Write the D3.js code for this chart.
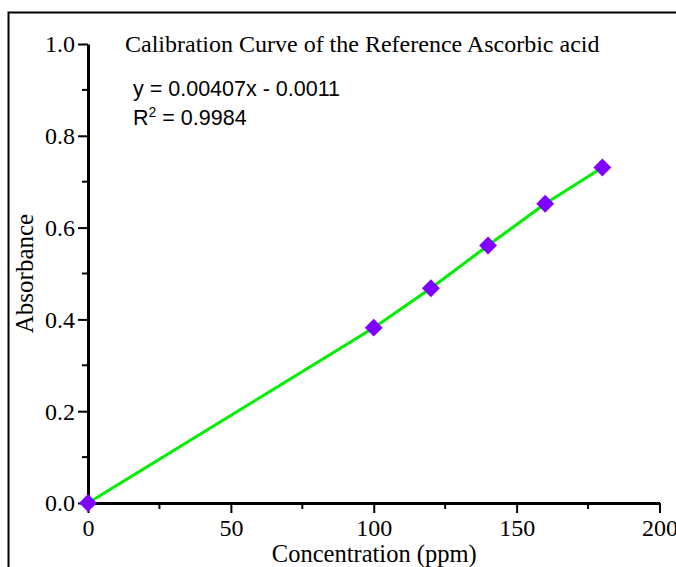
<!DOCTYPE html>
<html>
<head>
<meta charset="utf-8">
<script src="https://cdn.jsdelivr.net/npm/d3@7"></script>
<style>
  body { margin: 0; background: #fff; }
  svg { display: block; }
</style>
</head>
<body>
<svg width="676" height="567"></svg>
<script>
// data
var conc = [0, 100, 120, 140, 160, 180];
var absorb = [0, 0.382, 0.468, 0.561, 0.652, 0.731];
var xTicks = [0, 50, 100, 150, 200];
var yTicks = [0.0, 0.2, 0.4, 0.6, 0.8, 1.0];
var titleText = "Calibration Curve of the Reference Ascorbic acid";
var eqText = "y = 0.00407x - 0.0011";
var r2Text = "0.9984";

var serif = "'Liberation Serif', 'Times New Roman', serif";
var sans = "'Liberation Sans', Arial, sans-serif";

var svg = d3.select("svg");
var x = d3.scaleLinear().domain([0, 200]).range([88, 659.5]);
var y = d3.scaleLinear().domain([0, 1]).range([503, 44]);

// outer frame (only top and left are visible)
svg.append("rect")
   .attr("x", 8.5).attr("y", 12.5)
   .attr("width", 700).attr("height", 600)
   .attr("fill", "none").attr("stroke", "#000").attr("stroke-width", 2);

var data = conc.map(function(c, i) { return {c: c, a: absorb[i]}; });

// minor ticks
svg.append("g").selectAll("line").data(d3.range(25, 200, 50)).enter().append("line")
   .attr("x1", function(d) { return x(d); }).attr("x2", function(d) { return x(d); })
   .attr("y1", y(0)).attr("y2", y(0) + 6)
   .attr("stroke", "#000").attr("stroke-width", 2);
svg.append("g").selectAll("line").data(d3.range(0.1, 1, 0.2)).enter().append("line")
   .attr("y1", function(d) { return y(d); }).attr("y2", function(d) { return y(d); })
   .attr("x1", x(0)).attr("x2", x(0) - 6)
   .attr("stroke", "#000").attr("stroke-width", 2);

var xAxis = svg.append("g")
   .attr("transform", "translate(0," + y(0) + ")")
   .call(d3.axisBottom(x).tickValues(xTicks).tickSize(10).tickSizeOuter(0));
var yAxis = svg.append("g")
   .attr("transform", "translate(" + x(0) + ",0)")
   .call(d3.axisLeft(y).tickValues(yTicks).tickSize(10).tickSizeOuter(0).tickPadding(3)
         .tickFormat(d3.format(".1f")));

[xAxis, yAxis].forEach(function(g) {
  g.select(".domain").attr("stroke-width", 3);
  g.selectAll(".tick line").attr("stroke-width", 2);
  g.selectAll("text").attr("font-family", serif)
   .attr("font-size", 24).attr("fill", "#000");
});
xAxis.selectAll("text").attr("y", 33).attr("dy", 0);
yAxis.selectAll("text").attr("dy", "0.33em");

var line = d3.line()
    .x(function(d) { return x(d.c); })
    .y(function(d) { return y(d.a); });

svg.append("path")
   .datum(data)
   .attr("d", line)
   .attr("fill", "none")
   .attr("stroke", "#00ee00")
   .attr("stroke-width", 3);

svg.append("g").selectAll("path").data(data).enter().append("path")
   .attr("d", d3.symbol().type(d3.symbolSquare).size(160))
   .attr("transform", function(d) { return "translate(" + x(d.c) + "," + y(d.a) + ") rotate(45)"; })
   .attr("fill", "#8000ff");

// texts
svg.append("text")
   .attr("x", 125).attr("y", 52)
   .attr("font-family", serif)
   .attr("font-size", 24)
   .text(titleText);

svg.append("text")
   .attr("x", 133).attr("y", 96)
   .attr("font-family", sans)
   .attr("font-size", 21.5)
   .text(eqText);

var r2 = svg.append("text")
   .attr("x", 133).attr("y", 125)
   .attr("font-family", sans)
   .attr("font-size", 21.5);
r2.append("tspan").text("R");
r2.append("tspan").attr("dy", -8).attr("font-size", 14).text("2");
r2.append("tspan").attr("dy", 8).text(" = " + r2Text);

svg.append("text")
   .attr("x", x(100) + 0.5).attr("y", 562)
   .attr("text-anchor", "middle")
   .attr("font-family", serif)
   .attr("font-size", 24.5)
   .text("Concentration (ppm)");

svg.append("text")
   .attr("transform", "translate(33," + y(0.5) + ") rotate(-90)")
   .attr("text-anchor", "middle")
   .attr("font-family", serif)
   .attr("font-size", 25)
   .text("Absorbance");
</script>
</body>
</html>
